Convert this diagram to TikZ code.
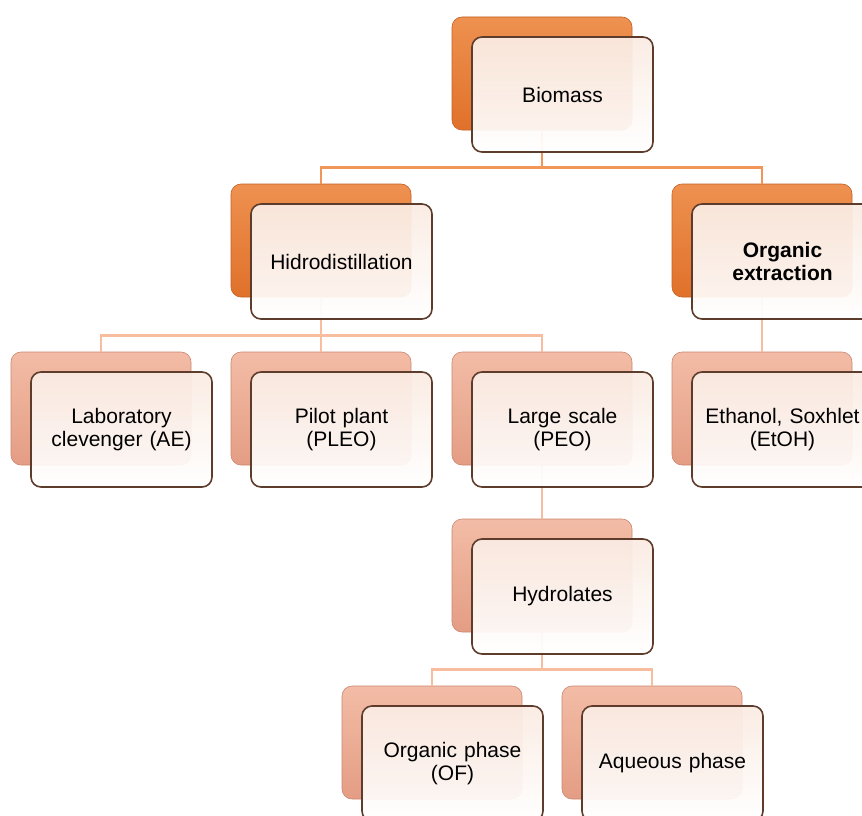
\documentclass[tikz,border=0pt]{standalone}
\usepackage{fontspec}
\setmainfont{Liberation Sans}
\usetikzlibrary{calc}
\definecolor{backA}{HTML}{E0712A}
\definecolor{backAtop}{HTML}{EE9150}
\definecolor{backAline}{HTML}{C45F22}
\definecolor{backB}{HTML}{E49D84}
\definecolor{backBtop}{HTML}{F3BCA6}
\definecolor{backBline}{HTML}{C98670}
\definecolor{frontTop}{HTML}{FAEBE2}
\definecolor{frontMid}{HTML}{FCF1EB}
\definecolor{frontLine}{HTML}{5E3C2C}
\definecolor{connA}{HTML}{F29558}
\definecolor{connB}{HTML}{F8BC9E}
\tikzset{
  backbox/.style={rounded corners=10pt, minimum width=180pt, minimum height=113pt, inner sep=0pt},
  backorange/.style={backbox, draw=backAline, line width=0.6pt, top color=backAtop, bottom color=backA},
  backsalmon/.style={backbox, draw=backBline, line width=0.6pt, top color=backBtop, bottom color=backB},
  frontbox/.style={rounded corners=10pt, minimum width=181pt, minimum height=115pt, inner sep=0pt,
    draw=frontLine, line width=1.6pt, top color=frontTop, middle color=frontMid, bottom color=white,
    fill opacity=0.94, text opacity=1, align=center, text width=172pt,
    font=\fontsize{21}{23}\selectfont},
  connone/.style={draw=connA, line width=2.8pt},
  conntwo/.style={draw=connB, line width=2.6pt},
}
\begin{document}
\begin{tikzpicture}[x=1pt,y=-1pt]
\useasboundingbox (0,0) rectangle (862,816);
% back boxes
\node[backorange] (bioB) at (542,73.5) {};
\node[backorange] (hidB) at (321,240.5) {};
\node[backorange] (orgB) at (762,240.5) {};
\node[backsalmon] (labB) at (101,408.5) {};
\node[backsalmon] (pilB) at (321,408.5) {};
\node[backsalmon] (larB) at (542,408.5) {};
\node[backsalmon] (ethB) at (762,408.5) {};
\node[backsalmon] (hydB) at (542,575.5) {};
\node[backsalmon] (opB) at (432,742.5) {};
\node[backsalmon] (aqB) at (652,742.5) {};
% connectors
\draw[connone] (hidB.north) -- ++(0,-16) -| (bioB.south);
\draw[connone] (orgB.north) -- ++(0,-16) -| (bioB.south);
\draw[conntwo] (labB.north) -- ++(0,-16) -| (hidB.south);
\draw[conntwo] (pilB.north) -- (hidB.south);
\draw[conntwo] (larB.north) -- ++(0,-16) -| (hidB.south);
\draw[conntwo] (ethB.north) -- (orgB.south);
\draw[conntwo] (hydB.north) -- (larB.south);
\draw[conntwo] (opB.north) -- ++(0,-16) -| (hydB.south);
\draw[conntwo] (aqB.north) -- ++(0,-16) -| (hydB.south);
% front boxes
\node[frontbox] (bio) at (562.5,94.5) {Biomass};
\node[frontbox] (hid) at (341.5,261.5) {Hidrodistillation};
\node[frontbox] (org) at (782.5,261.5) {\bfseries Organic\\\bfseries extraction};
\node[frontbox] (lab) at (121.5,429.5) {Laboratory\\clevenger (AE)};
\node[frontbox] (pil) at (341.5,429.5) {Pilot plant\\(PLEO)};
\node[frontbox] (lar) at (562.5,429.5) {Large scale\\(PEO)};
\node[frontbox] (eth) at (782.5,429.5) {Ethanol, Soxhlet\\(EtOH)};
\node[frontbox] (hyd) at (562.5,596.5) {Hydrolates};
\node[frontbox] (op) at (452.5,763.5) {Organic phase\\(OF)};
\node[frontbox] (aq) at (672.5,763.5) {Aqueous phase};
\end{tikzpicture}
\end{document}
